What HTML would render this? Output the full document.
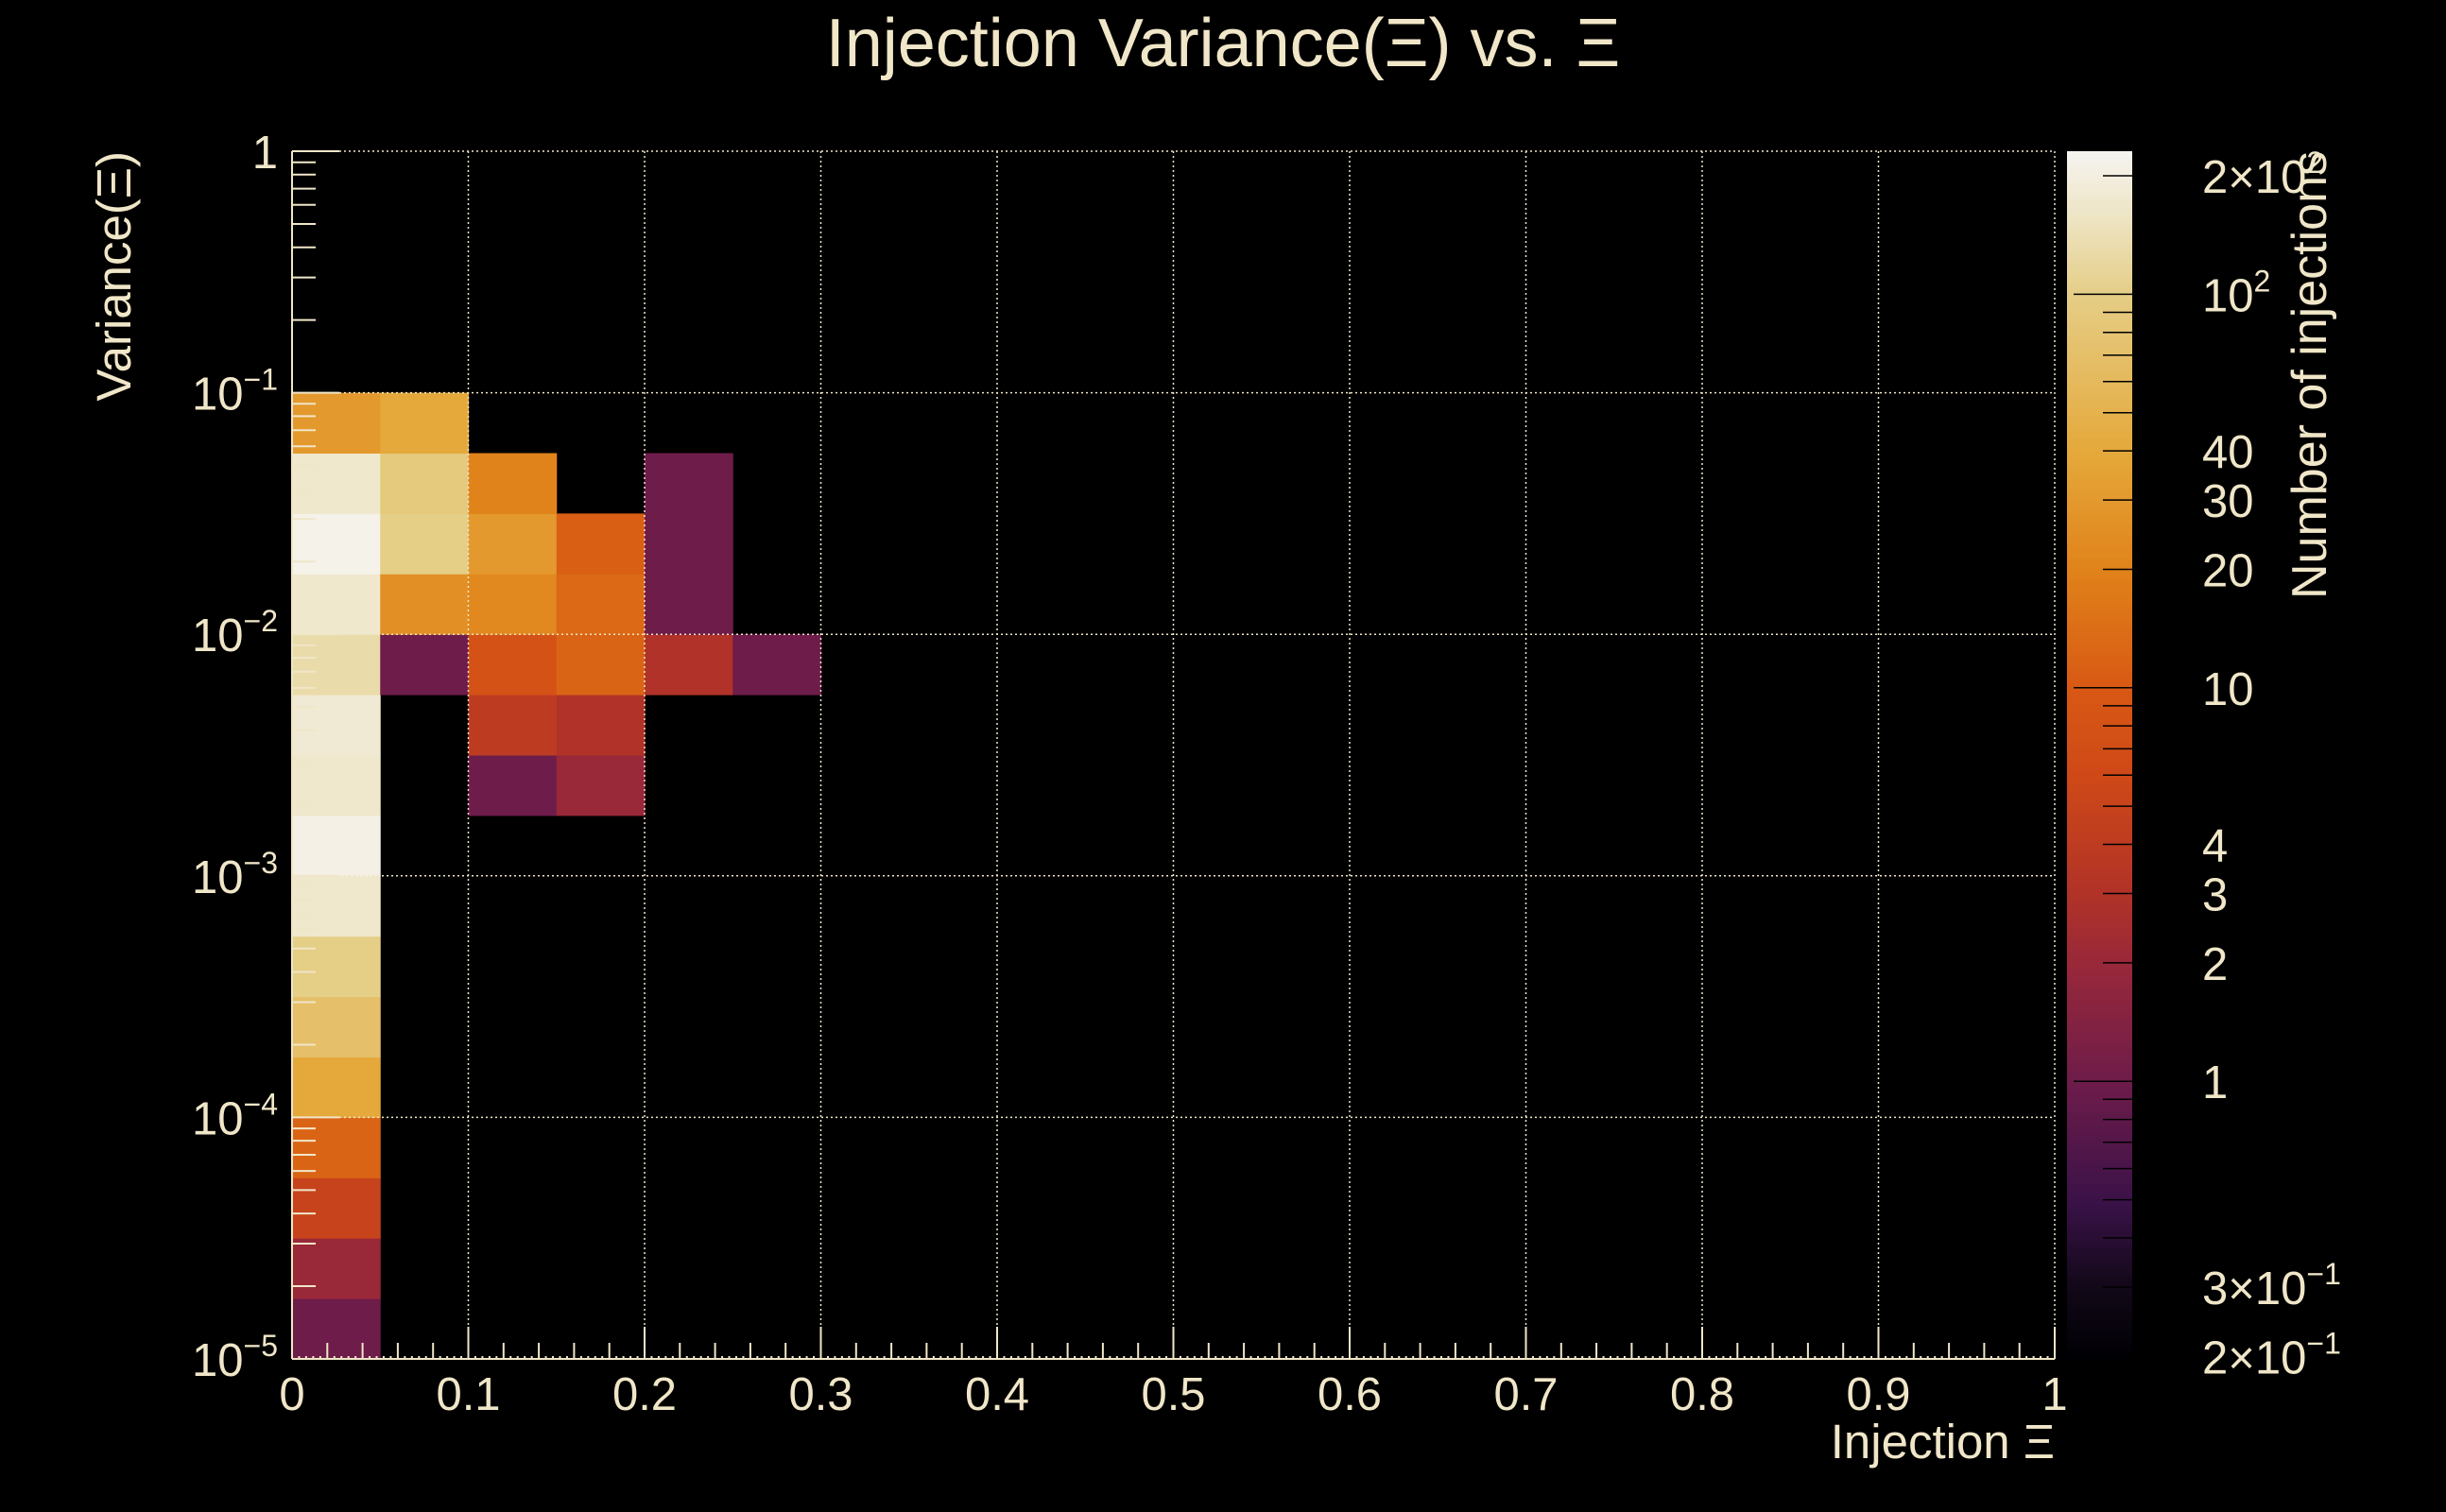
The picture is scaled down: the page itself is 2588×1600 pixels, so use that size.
<!DOCTYPE html>
<html><head><meta charset="utf-8"><style>
html,body{margin:0;padding:0;background:#000;}
svg{display:block;}
text{font-family:"Liberation Sans",sans-serif;fill:#f0e6c8;}
</style></head><body>
<svg id="chart" width="2588" height="1600" viewBox="0 0 2588 1600" xmlns="http://www.w3.org/2000/svg">
<rect width="2588" height="1600" fill="#000"/>
<text x="1294" y="70" font-size="72" text-anchor="middle">Injection Variance(Ξ) vs. Ξ</text>
<text transform="translate(138,160) rotate(-90)" font-size="51" text-anchor="end">Variance(Ξ)</text>
<text x="2174" y="1543" font-size="51" text-anchor="end">Injection Ξ</text>
<text transform="translate(2461,160) rotate(-90)" font-size="52" text-anchor="end">Number of injections</text>
<g id="cells"></g>
<g id="grid"></g>
<g id="axes"></g>
<g id="cbar"></g>
</svg>
<script>
// data: x bin index (0.05 wide), y bin index (0.25 decade from 1e-5), count
const xBins = [0,0,0,0,0,0,0,0,0,0,0,0,0,0,0,0, 1,1,1,1,1, 2,2,2,2,2,2, 3,3,3,3,3, 4,4,4,4, 5];
const yBins = [0,1,2,3,4,5,6,7,8,9,10,11,12,13,14,15, 11,12,13,14,15, 9,10,11,12,13,14, 9,10,11,12,13, 11,12,13,14, 11];
const counts = [1,2,5,12,40,70,100,170,210,170,180,130,170,220,170,30, 1,25,100,90,40, 1,4,8,22,30,20, 2,3,12,13,11, 3,1,1,1, 1];
const xTickLabels = ["0","0.1","0.2","0.3","0.4","0.5","0.6","0.7","0.8","0.9","1"];
const yTickExps = [0,-1,-2,-3,-4,-5];
const zTickValues = [200,100,40,30,20,10,4,3,2,1,0.3,0.2];
const zTickLabels = ["2×10²","10²","40","30","20","10","4","3","2","1","3×10⁻¹","2×10⁻¹"];

const NS="http://www.w3.org/2000/svg";
const X0=309,X1=2174,Y0=1438,Y1=160;
const xs=v=>X0+(X1-X0)*v;
const ys=l=>Y0-(Y0-Y1)*(l+5)/5;
const ZMIN=0.197,ZMAX=231,CB_T=160,CB_B=1438,CB_L=2187,CB_R=2256;
const zt=v=>(Math.log10(v)-Math.log10(ZMIN))/(Math.log10(ZMAX)-Math.log10(ZMIN));
const zy=v=>CB_B-(CB_B-CB_T)*zt(v);
const stops=[[0,[0,0,4]],[0.06,[18,8,24]],[0.13,[58,18,72]],[0.228,[109,28,74]],[0.326,[152,40,58]],[0.384,[176,50,40]],[0.48,[206,72,24]],[0.554,[216,88,20]],[0.652,[224,130,26]],[0.75,[229,168,58]],[0.88,[229,205,133]],[0.95,[238,230,200]],[1,[246,244,240]]];
function col(t){t=Math.max(0,Math.min(1,t));for(let i=1;i<stops.length;i++){if(t<=stops[i][0]){const a=stops[i-1],b=stops[i],f=(t-a[0])/(b[0]-a[0]);return 'rgb('+a[1].map((c,k)=>Math.round(c+(b[1][k]-c)*f)).join(',')+')';}}return 'rgb(246,244,240)';}
function mk(tag,attrs,parent){const e=document.createElementNS(NS,tag);for(const k in attrs)e.setAttribute(k,attrs[k]);parent.appendChild(e);return e;}

const cells=document.getElementById('cells');
for(let i=0;i<counts.length;i++){
  const xa=xs(xBins[i]*0.05),xb=xs((xBins[i]+1)*0.05);
  const ya=ys(-5+yBins[i]*0.25),yb=ys(-5+(yBins[i]+1)*0.25);
  const r=mk('rect',{x:xa,y:yb,width:xb-xa+0.5,height:ya-yb+0.5,fill:col(zt(counts[i]))},cells);
  
  
}

const grid=document.getElementById('grid');
const gs={stroke:'#f0e6c8','stroke-width':1.5,'stroke-dasharray':'2,3'};
for(let k=1;k<=10;k++){const l=mk('line',Object.assign({x1:xs(k/10),x2:xs(k/10),y1:Y1,y2:Y0},gs),grid);}
for(let e=-4;e<=0;e++){const l=mk('line',Object.assign({x1:X0,x2:X1,y1:ys(e),y2:ys(e)},gs),grid);}

const axes=document.getElementById('axes');
const ts={stroke:'#f0e6c8','stroke-width':2};
mk('line',Object.assign({x1:X0,x2:X1,y1:Y0,y2:Y0},ts),axes);
mk('line',Object.assign({x1:X0,x2:X0,y1:Y0,y2:Y1},ts),axes);
for(let k=0;k<=250;k++){const v=k*0.004;const len=k%25==0?34:(k%5==0?17:3);mk('line',Object.assign({x1:xs(v),x2:xs(v),y1:Y0,y2:Y0-len},ts),axes);}
xTickLabels.forEach((s,k)=>{const t=mk('text',{x:xs(k/10),y:1492,'font-size':49,'text-anchor':'middle'},axes);t.textContent=s;});
for(let e=-5;e<0;e++){for(let m=2;m<=9;m++){const y=ys(e+Math.log10(m));mk('line',Object.assign({x1:X0,x2:X0+25,y1:y,y2:y},ts),axes);}}
for(let e=-5;e<=0;e++){mk('line',Object.assign({x1:X0,x2:X0+50,y1:ys(e),y2:ys(e)},ts),axes);}
yTickExps.forEach(e=>{const t=mk('text',{x:294,y:ys(e)+18,'font-size':49,'text-anchor':'end'},axes);
 if(e===0){t.textContent='1';}else{t.textContent='10';const s=mk('tspan',{'font-size':32,dy:-21},t);s.textContent='−'+(-e);}
 });

const cb=document.getElementById('cbar');
for(let p=0;p<400;p++){const y0=CB_B-(CB_B-CB_T)*p/400,y1=CB_B-(CB_B-CB_T)*(p+1)/400;mk('rect',{x:CB_L,y:y1,width:CB_R-CB_L,height:y0-y1+0.6,fill:col((p+0.5)/400)},cb);}
for(let e=-1;e<=2;e++){for(let m=1;m<=9;m++){const v=m*Math.pow(10,e);if(v<ZMIN||v>ZMAX)continue;const y=zy(v);mk('line',{x1:m==1?CB_R-62:CB_R-31,x2:CB_R,y1:y,y2:y,stroke:'#000','stroke-width':1.5},cb);}}
zTickValues.forEach((v,i)=>{const t=mk('text',{x:2330,y:zy(v)+18,'font-size':49},cb);
 const s=zTickLabels[i];const m=s.match(/^(.*10)([²⁻¹]+)$/);
 if(m){t.textContent=m[1];const sp=mk('tspan',{'font-size':32,dy:-21},t);sp.textContent=m[2]==='²'?'2':'−1';}else t.textContent=s;
 });
</script>
</body></html>
